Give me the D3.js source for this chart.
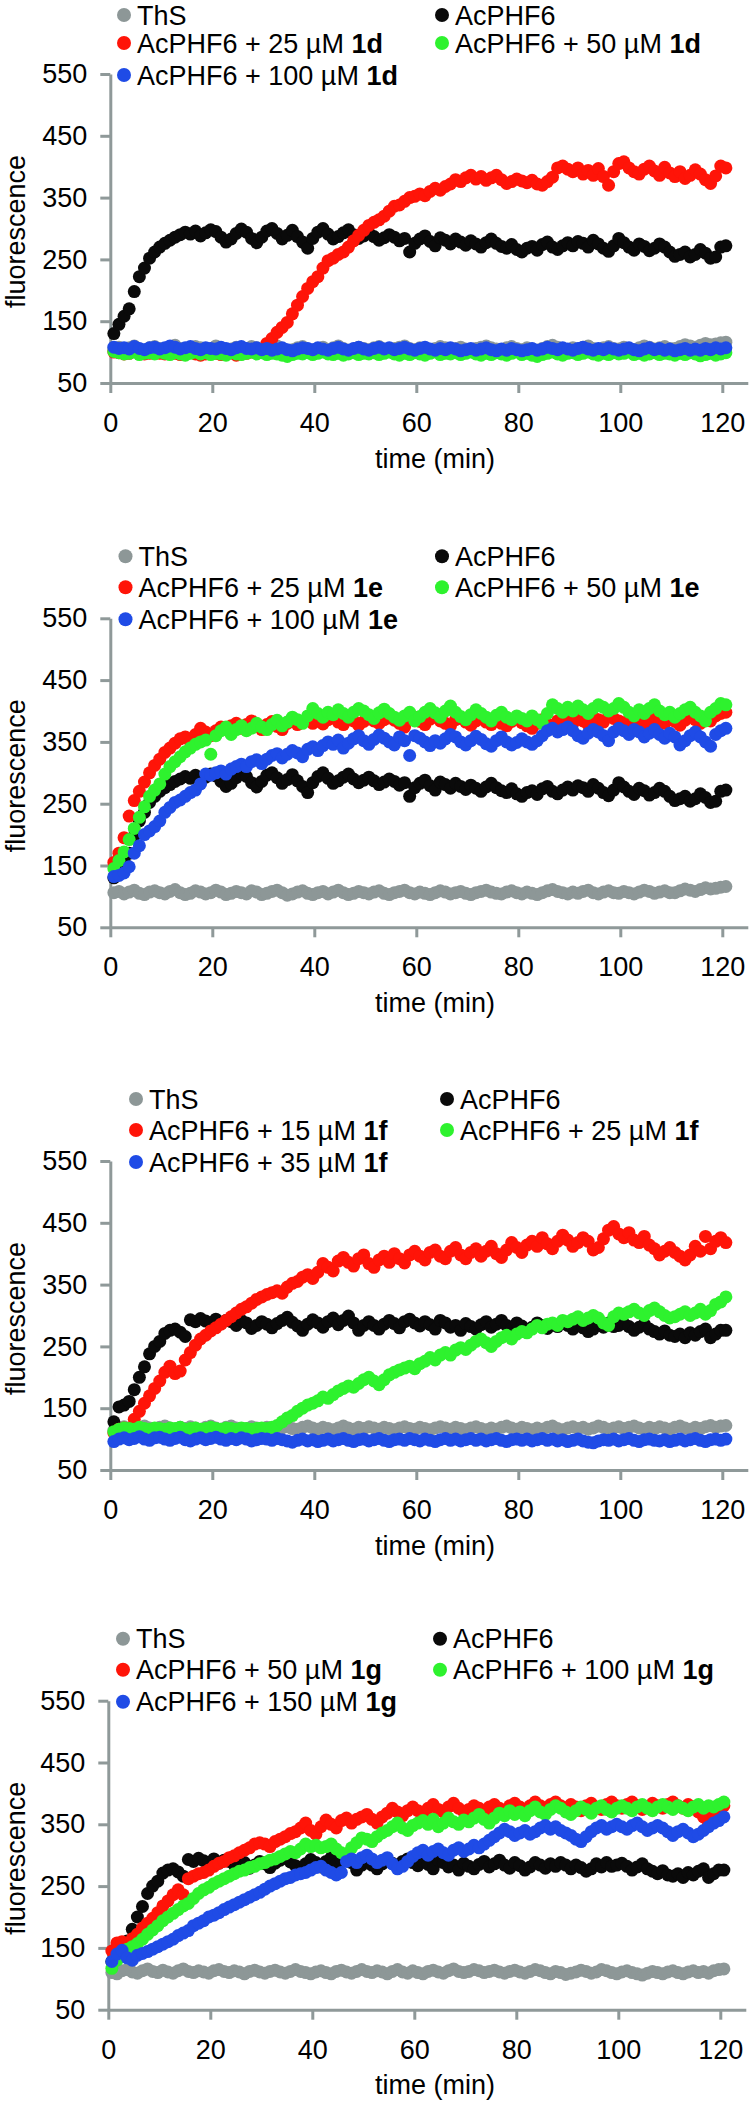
<!DOCTYPE html>
<html><head><meta charset="utf-8">
<script src="https://cdn.jsdelivr.net/npm/d3@7"></script>
<style>
html,body{margin:0;padding:0;background:#fff;}
svg text{font-family:"Liberation Sans",Arial,Helvetica,sans-serif;}
</style></head><body>
<svg id="chart" width="750" height="2102"></svg>
<script>
// sampling times (min)
const times = d3.range(121).map(i => 0.7 + i);
const xTicks = [0, 20, 40, 60, 80, 100, 120];
const yTicks = [50, 150, 250, 350, 450, 550];
const colors = ["#8d9797", "#0a0a0a", "#ff1408", "#2ef22e", "#1f4be6"];

// ---- panel 1 & 2 shared controls ----
const thsDE = [106,108,104,107,110,105,103,107,109,106, 104,108,111,106,103,105,109,107,104,106,
 110,107,103,105,108,106,104,109,107,103, 105,108,110,106,102,104,107,109,105,103,
 106,108,104,107,110,106,103,105,108,106, 104,107,109,105,103,106,108,110,106,104,
 107,105,103,106,109,107,104,106,108,105, 103,106,108,110,107,105,104,107,109,106,
 104,107,105,103,106,109,111,108,106,104, 107,105,108,110,106,104,107,109,106,105,
 108,106,104,107,110,108,105,107,109,106, 106,109,112,110,108,111,114,112,113,115, 116];
const acDE = [130,145,158,170,198,222,236,252,262,270, 276,281,286,290,294,291,296,288,293,298,
 295,286,278,283,292,299,294,284,277,286, 296,300,292,283,289,297,287,278,268,284,
 294,300,291,283,287,293,298,290,284,288, 293,287,281,285,290,286,280,284,262,276,
 283,288,279,272,285,281,275,283,278,273, 280,275,270,277,283,276,271,268,274,266,
 262,268,271,265,274,278,270,266,272,277, 272,279,276,270,281,275,268,263,272,284,
 277,270,265,275,271,264,268,275,270,262, 255,258,262,254,258,266,260,252,254,270, 272];

// ---- panel 1: 1d ----
const d25 = [100,99,97,98,101,99,97,98,100,98, 97,99,98,96,98,100,97,95,97,99,
 98,96,97,99,95,97,98,100,99,104, 114,122,132,140,148,162,176,190,203,214,
 222,236,248,252,258,262,270,280,289,297, 305,310,314,320,328,336,338,344,350,352,
 356,353,360,365,362,368,372,379,376,382, 386,380,384,378,382,386,379,373,376,380,
 377,374,378,372,370,376,383,398,401,396, 392,398,388,394,386,397,384,370,392,405,
 408,398,392,388,396,401,393,386,399,390, 384,392,381,386,395,388,379,373,385,401, 398];
const d50 = [101,99,97,98,100,96,98,99,97,100, 98,96,99,97,95,98,100,97,99,96,
 98,97,95,99,97,96,98,100,97,99, 96,98,97,95,93,96,98,97,99,96,
 98,100,97,96,98,95,97,99,96,98, 97,99,96,98,100,97,95,98,96,99,
 97,95,98,100,96,98,97,99,96,98, 100,97,95,98,96,99,97,95,98,100,
 96,98,95,93,96,98,100,97,95,98, 99,96,98,100,97,95,98,96,99,97,
 98,100,96,98,95,97,99,96,98,97, 95,98,96,99,97,94,96,98,95,97, 99];
const d100 = [108,106,107,105,109,106,104,107,108,105, 107,110,108,105,107,109,106,104,107,106,
 105,108,106,104,107,109,106,105,107,104, 106,103,105,107,104,102,105,107,106,104,
 107,105,103,106,108,105,103,106,108,105, 103,106,108,105,107,104,106,108,105,103,
 106,108,105,103,106,104,107,105,102,104, 106,103,105,107,104,102,105,103,106,104,
 102,104,106,103,105,108,106,104,107,105, 103,106,108,105,103,106,104,107,105,103,
 105,107,104,102,105,107,104,106,103,105, 102,104,106,103,105,103,106,104,107,105, 107];

// ---- panel 2: 1e ----
const e25 = [155,170,195,230,255,270,285,300,312,322, 333,340,348,355,358,350,362,372,366,360,
 368,374,370,376,380,372,378,384,376,370, 378,383,375,370,380,386,378,382,388,380,
 384,379,386,390,382,378,388,384,377,383, 389,384,380,386,392,385,380,374,386,390,
 383,378,387,392,384,380,376,386,390,382, 377,384,389,382,378,386,380,376,383,388,
 381,376,372,380,386,379,376,384,390,386, 380,388,384,378,390,386,382,392,388,384,
 379,386,390,383,378,386,392,385,380,388, 383,377,385,391,386,380,388,384,392,396, 398];
const e50 = [145,158,172,192,210,228,245,262,272,282, 298,310,318,326,334,340,346,350,353,330,
 360,368,374,362,370,376,368,372,380,374, 370,378,385,376,382,390,386,380,392,404,
 396,390,398,394,402,396,390,398,404,400, 394,388,397,403,396,390,385,392,398,384,
 391,398,404,397,390,400,408,398,391,386, 394,402,396,390,384,393,398,390,386,392,
 388,384,392,386,380,396,410,404,398,406, 400,408,402,396,404,410,406,400,404,412,
 406,398,392,402,396,404,410,400,394,398, 390,396,402,406,398,392,384,398,404,412, 410];
const e100 = [132,134,138,148,170,182,200,206,213,222, 236,244,252,256,262,268,272,282,298,296,
 300,303,298,306,310,314,310,318,321,315, 322,328,331,324,330,336,332,326,338,342,
 336,344,350,346,353,340,348,355,360,352, 346,354,361,356,350,345,358,352,328,360,
 356,350,344,352,348,355,362,358,350,345, 352,359,354,347,343,352,358,350,345,349,
 355,350,346,352,360,368,372,366,370,374, 368,360,356,364,370,366,360,352,366,372,
 368,362,370,366,358,364,370,362,356,364, 358,345,352,360,366,358,350,343,362,368, 372];

// ---- panel 3 & 4 shared control ----
const acFG = [128,152,155,161,180,200,217,238,250,258, 271,276,278,273,266,293,290,295,291,288,
 294,287,292,290,284,292,288,279,284,290, 286,280,287,292,297,289,283,276,286,293,
 288,281,290,296,285,292,299,288,276,284, 290,284,278,286,292,287,280,290,294,288,
 283,290,285,278,292,288,281,284,276,287, 282,278,285,290,281,286,292,284,279,288,
 283,276,281,288,284,279,286,282,288,284, 278,284,280,274,278,286,281,288,282,284,
 287,282,276,281,286,278,274,270,275,268, 266,270,264,272,268,274,278,264,270,276, 276];

// ---- panel 3: 1f ----
const thsF = [114,118,120,117,115,119,121,118,116,119, 121,118,116,119,117,120,118,115,119,121,
 118,116,119,121,118,115,117,120,118,116, 119,117,115,118,120,117,116,119,121,118,
 116,119,117,115,118,121,118,116,119,117, 120,118,116,119,117,115,118,120,117,116,
 119,117,115,118,120,118,116,119,117,115, 118,120,117,115,118,116,119,121,118,116,
 119,117,115,118,116,119,121,117,115,118, 120,117,119,116,118,121,119,116,118,120,
 117,119,121,118,116,119,117,120,118,116, 119,121,118,116,119,117,120,122,119,121, 122];
const f15 = [110,116,118,117,132,145,158,170,182,194, 208,218,206,210,228,240,252,262,268,275,
 280,286,292,298,304,310,314,320,326,330, 334,337,340,336,346,352,355,362,366,360,
 370,384,378,372,388,394,386,380,392,398, 384,378,390,396,386,400,392,385,398,404,
 396,390,402,406,396,392,404,410,398,392, 402,408,396,404,412,400,394,406,418,410,
 402,414,420,412,426,416,408,420,430,422, 412,418,426,420,406,410,424,438,444,432,
 426,434,422,418,428,414,408,398,404,410, 402,396,390,398,412,404,428,408,420,426, 418];
const f25 = [112,116,118,117,116,119,117,116,118,117, 116,118,117,119,116,117,118,116,117,119,
 117,116,118,117,116,118,117,116,117,118, 117,119,122,128,134,138,145,150,155,158,
 162,168,166,172,178,182,186,184,190,196, 200,194,188,196,204,208,212,215,218,214,
 222,226,232,228,236,240,236,244,248,245, 252,258,262,256,250,258,264,268,262,270,
 274,272,278,284,280,286,288,284,292,290, 294,298,292,296,300,296,288,284,298,304,
 302,306,310,304,300,308,312,306,300,296, 298,302,306,300,304,310,302,308,318,322, 330];
const f35 = [96,100,102,99,101,104,100,98,102,103, 100,98,101,103,99,97,100,102,99,101,
 103,100,98,101,99,102,100,97,99,101, 100,98,101,99,97,95,98,100,97,99,
 96,98,100,97,99,101,98,96,99,100, 97,99,101,98,96,99,100,98,101,99,
 97,100,98,96,99,101,98,100,97,99, 101,98,100,97,99,101,98,96,99,100,
 98,100,97,99,101,98,100,97,99,96, 98,100,97,95,94,97,99,98,100,97,
 99,101,98,96,99,100,98,97,99,96, 98,100,97,99,101,98,96,99,100,98, 100];

// ---- panel 4: 1g ----
const thsG = [110,108,113,115,111,109,113,116,112,110, 114,111,109,113,116,112,110,113,111,109,
 113,115,112,110,113,111,108,112,114,111, 109,112,114,111,109,112,115,112,110,108,
 111,113,110,108,112,114,111,109,112,115, 112,110,113,111,108,112,115,111,109,113,
 110,108,112,114,111,109,113,116,112,110, 112,115,113,110,112,114,111,109,112,114,
 111,109,112,115,113,110,108,112,110,107, 109,111,114,112,109,111,115,113,110,108,
 111,113,110,108,106,109,112,110,108,111, 113,110,108,111,113,110,112,109,113,115, 116];
const g50 = [145,158,160,142,165,172,182,190,198,207, 218,226,236,244,236,262,266,270,272,276,
 282,287,290,296,299,304,308,312,318,320, 318,314,322,326,330,335,338,344,352,340,
 334,346,357,350,344,356,360,352,358,362, 366,358,352,362,368,376,370,364,372,378,
 372,368,376,382,374,370,378,384,376,370, 374,380,376,370,378,382,376,372,380,384,
 378,374,380,386,380,376,382,386,380,376, 382,378,372,380,384,378,374,382,386,380,
 376,382,386,380,374,378,384,380,376,382, 386,380,376,382,378,370,362,350,366,376, 380];
const g100 = [117,130,141,148,152,157,164,172,179,186, 194,200,206,212,218,222,230,238,244,248,
 254,258,262,266,270,274,276,280,282,286, 288,292,294,298,302,306,304,310,318,314,
 316,312,314,318,310,304,302,312,320,328, 326,322,330,336,340,346,352,344,340,348,
 352,356,350,358,346,352,360,354,350,357, 354,360,366,358,352,360,368,364,372,366,
 370,364,372,378,370,366,374,380,376,370, 366,372,378,374,368,376,380,374,370,376,
 380,376,372,378,382,376,372,378,382,378, 374,380,376,372,378,382,376,380,378,382, 386];
const g150 = [128,140,146,134,130,138,141,144,148,152, 156,160,164,170,174,178,186,190,194,200,
 203,207,212,216,220,224,228,232,236,240, 245,250,254,258,262,264,268,270,272,276,
 280,282,276,272,268,272,290,294,288,296, 300,294,288,292,296,286,278,282,290,298,
 304,308,300,306,310,304,300,308,312,306, 310,316,312,318,324,330,336,342,338,332,
 336,340,334,338,344,348,342,346,340,336, 332,326,322,330,338,344,348,342,346,350,
 346,342,348,352,346,340,344,348,344,338, 332,338,342,336,330,334,340,346,352,356, 362];

const doseLabels = [["25","50","100"],["25","50","100"],["15","25","35"],["50","100","150"]];
const compounds = ["1d","1e","1f","1g"];

const panels = [
  {top: 74,     left: 110.3, legL: 124,   legR: 442, row1: -59, data: [thsDE, acDE, d25, d50, d100]},
  {top: 618.3,  left: 110.3, legL: 125.5, legR: 442, row1: -62, data: [thsDE, acDE, e25, e50, e100]},
  {top: 1161,   left: 110.3, legL: 136,   legR: 447, row1: -62, data: [thsF, acFG, f15, f25, f35]},
  {top: 1700.7, left: 108.3, legL: 123,   legR: 440, row1: -62, data: [thsG, acFG, g50, g100, g150]}
];

const svg = d3.select("#chart");
const FS = 27;
const axisColor = "#8f9999";
const plotH = 309;
const pxPerMin = 5.1;

panels.forEach((p, pi) => {
  const g = svg.append("g");
  const x = d3.scaleLinear().domain([0, 125]).range([p.left, p.left + 125 * pxPerMin]);
  const y = d3.scaleLinear().domain([50, 550]).range([p.top + plotH, p.top]);

  const yAxis = g.append("g").attr("transform", `translate(${p.left},0)`)
    .call(d3.axisLeft(y).tickValues(yTicks).tickSize(10).tickSizeOuter(0).tickPadding(13));
  const xAxis = g.append("g").attr("transform", `translate(0,${p.top + plotH})`)
    .call(d3.axisBottom(x).tickValues(xTicks).tickSize(10).tickSizeOuter(0).tickPadding(20));
  [yAxis, xAxis].forEach(a => {
    a.selectAll("path,line").attr("stroke", axisColor).attr("stroke-width", 3);
    a.selectAll("text").attr("font-size", FS).attr("fill", "#000")
      .attr("font-family", '"Liberation Sans",Arial,sans-serif');
  });

  // axis titles
  g.append("text")
    .attr("transform", `translate(16,${p.top + plotH / 2 + 3}) rotate(-90)`)
    .attr("text-anchor", "middle").attr("dy", "0.35em")
    .attr("font-size", FS).text("fluorescence");
  g.append("text")
    .attr("x", 435).attr("y", p.top + 384 + 9.7)
    .attr("text-anchor", "middle").attr("font-size", FS).text("time (min)");

  // data points
  p.data.forEach((vals, si) => {
    g.append("g").selectAll("circle")
      .data(vals.map((v, i) => [times[i], v]))
      .join("circle")
      .attr("cx", d => x(d[0]))
      .attr("cy", d => y(d[1]))
      .attr("r", 6.5)
      .attr("fill", colors[si]);
  });

  // legend
  const doses = doseLabels[pi];
  const comp = compounds[pi];
  const entries = [
    {txt: "ThS", bold: "", col: p.legL, row: p.row1},
    {txt: "AcPHF6", bold: "", col: p.legR, row: p.row1},
    {txt: `AcPHF6 + ${doses[0]} \u00B5M `, bold: comp, col: p.legL, row: -31},
    {txt: `AcPHF6 + ${doses[1]} \u00B5M `, bold: comp, col: p.legR, row: -31},
    {txt: `AcPHF6 + ${doses[2]} \u00B5M `, bold: comp, col: p.legL, row: 1}
  ];
  entries.forEach((e, si) => {
    const cy = p.top + e.row;
    g.append("circle").attr("cx", e.col).attr("cy", cy).attr("r", 7).attr("fill", colors[si]);
    const t = g.append("text").attr("x", e.col + 13).attr("y", cy + 9.7)
      .attr("font-size", FS).attr("fill", "#000");
    t.append("tspan").text(e.txt);
    if (e.bold) t.append("tspan").attr("font-weight", "bold").text(e.bold);
  });
});
</script>
</body></html>
